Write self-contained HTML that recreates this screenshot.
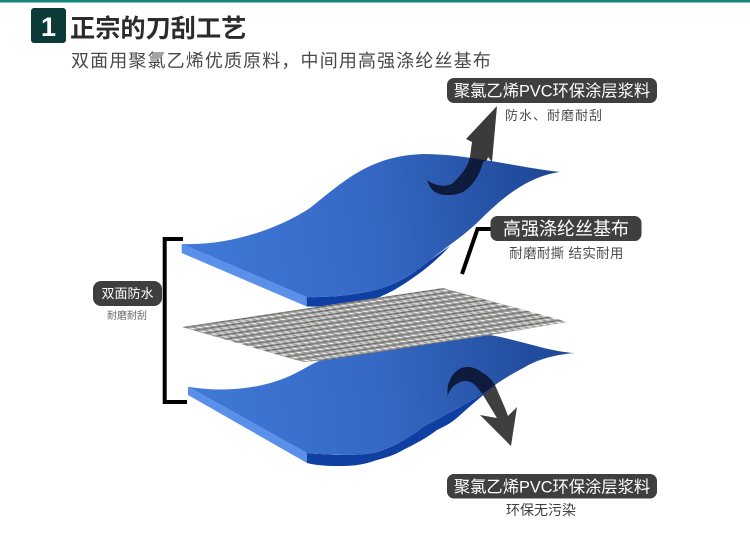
<!DOCTYPE html>
<html>
<head>
<meta charset="utf-8">
<style>
html,body{margin:0;padding:0;background:#fff;}
svg{display:block;}
text{font-family:"Liberation Sans","Noto Sans CJK SC",sans-serif;}
</style>
</head>
<body>
<svg width="750" height="538" viewBox="0 0 750 538" xmlns="http://www.w3.org/2000/svg">
<defs>
<linearGradient id="g1" gradientUnits="userSpaceOnUse" x1="190" y1="240" x2="560" y2="190">
<stop offset="0" stop-color="#4079d8"/><stop offset="0.5" stop-color="#3568c4"/><stop offset="1" stop-color="#1d4593"/>
</linearGradient>
<linearGradient id="g2" gradientUnits="userSpaceOnUse" x1="190" y1="400" x2="575" y2="360">
<stop offset="0" stop-color="#4079d8"/><stop offset="0.5" stop-color="#3568c4"/><stop offset="1" stop-color="#1d4593"/>
</linearGradient>
<pattern id="mesh" width="4" height="4" patternUnits="userSpaceOnUse" patternTransform="matrix(1.8,-0.27,2.75,0.7,182,327)">
<rect width="4" height="4" fill="#adadab"/>
<rect x="0" y="0.2" width="2.9" height="1.1" fill="#6a6a6a"/>
<rect x="0.6" y="2.2" width="2.2" height="1.2" fill="#ececea"/>
<rect x="3.1" y="0" width="0.7" height="4" fill="#8a8a8a"/>
</pattern>
<clipPath id="topClip"><path d="M181.7,244 C230,246 280,228 310,208 C345,180 370,156 423,154 C470,154 520,168 560,172 C530,176 505,195 480,220 C465,235 445,248 430,260 C415,272 405,279 390,285 C375,292 340,298 306.7,297 Z"/></clipPath>
<clipPath id="botClip"><path d="M188,386.7 C220,392 255,390 285,378 C305,370 315,360 330,358 L490,335 C520,340 550,352 575,353 C560,354 540,358 525,367 C512,374 505,378 495,385 C480,397 450,412 423,427 C410,437 395,446 383,450 C370,456 340,456 307,453 Z"/></clipPath>
</defs>

<rect x="0" y="0" width="750" height="2.5" fill="#12877c"/>
<rect x="31" y="8" width="35" height="35" rx="3" fill="#0c3b37"/>
<text x="48.5" y="36" font-size="27" font-weight="bold" fill="#fff" text-anchor="middle">1</text>
<text x="70" y="37" font-size="25.2" font-weight="bold" fill="#2b2b2b">正宗的刀刮工艺</text>
<text x="71" y="67" font-size="18" letter-spacing="1.13" fill="#4a4a4a">双面用聚氯乙烯优质原料，中间用高强涤纶丝基布</text>

<!-- top arrow -->
<path d="M497,106 L466,139 L472,142 L470,157 C467,168 463,173 453,183 C448,187 436,187 427,180 C429,186 431,189 435,192 C441,195 444,195 448,195 C454,195 458,194 463,192 C469,188 474,183 477,177 C480,172 482,167 483,162 L487,160 L488,157 L492,162 Z" fill="#3b3b3b"/>

<!-- top sheet -->
<path d="M181.7,244 L306.7,297 L306.7,306.5 L181.7,253 Z" fill="#5a8fea"/>
<path d="M306.7,297 C340,298 375,292 390,285 C405,279 415,272 430,260 L450,246 C435,262 422,272 407,282 C395,290 385,295 377,298 C365,303 350,306 340,307 L306.7,306.5 Z" fill="#0f3fa2"/>
<path d="M181.7,244 C230,246 280,228 310,208 C345,180 370,156 423,154 C470,154 520,168 560,172 C530,176 505,195 480,220 C465,235 445,248 430,260 C415,272 405,279 390,285 C375,292 340,298 306.7,297 Z" fill="url(#g1)"/>
<g clip-path="url(#topClip)">
<path d="M497,106 L466,139 L472,142 L470,157 C467,168 463,173 453,183 C448,187 436,187 427,180 C429,186 431,189 435,192 C441,195 444,195 448,195 C454,195 458,194 463,192 C469,188 474,183 477,177 C480,172 482,167 483,162 L487,160 L488,157 L492,162 Z" fill="#0e1b3c"/>
</g>

<!-- bottom arrow -->
<path d="M447.7,395.7 C447,388 448,384 450,380 C452,375 455,372 458,370 C462,367 466,367 470,367 C475,368 479,370 483,373 C488,376 492,380 495,385 L505,408 L508,416 L517,407 L511,446 L480,415 L497,418 L483,395 C480,391 478,388 475,385 C472,382 468,381 465,381 C461,381 458,383 455,385 C451,388 449,392 447.7,395.7 Z" fill="#3f3f3f"/>

<!-- bottom sheet -->
<path d="M188,386.7 L307,453 L307,463 L188,395 Z" fill="#5a8fea"/>
<path d="M307,453 C340,456 370,456 383,450 C395,446 410,437 423,427 C450,412 480,397 495,385 C482,396 470,406 458,417 C450,424 445,426 437,430 C425,439 415,444 403,450 C395,455 385,458 377,460 C360,466 350,466 337,466 C325,466 315,465 307,463 Z" fill="#0f3fa2"/>
<path d="M188,386.7 C220,392 255,390 285,378 C305,370 315,360 330,358 L490,335 C520,340 550,352 575,353 C560,354 540,358 525,367 C512,374 505,378 495,385 C480,397 450,412 423,427 C410,437 395,446 383,450 C370,456 340,456 307,453 Z" fill="url(#g2)"/>
<g clip-path="url(#botClip)">
<path d="M447.7,395.7 C447,388 448,384 450,380 C452,375 455,372 458,370 C462,367 466,367 470,367 C475,368 479,370 483,373 C488,376 492,380 495,385 L505,408 L508,416 L517,407 L511,446 L480,415 L497,418 L483,395 C480,391 478,388 475,385 C472,382 468,381 465,381 C461,381 458,383 455,385 C451,388 449,392 447.7,395.7 Z" fill="#0e1b3c"/>
</g>

<!-- mesh -->
<path d="M182,327 L443,288 L568,322 L490,335 L327,360 L303,362 Z" fill="url(#mesh)"/>

<!-- bracket -->
<path d="M183,239 H164.7 V402 H187" fill="none" stroke="#000" stroke-width="4"/>
<!-- connector -->
<path d="M491,229 H477.5 L462,274" fill="none" stroke="#000" stroke-width="4"/>

<!-- left label -->
<rect x="93" y="281" width="69" height="25" rx="8" fill="#3f3f3f"/>
<text x="127.5" y="298" font-size="13" fill="#fff" text-anchor="middle">双面防水</text>
<text x="127" y="319" font-size="10" fill="#666" text-anchor="middle">耐磨耐刮</text>

<!-- top label -->
<rect x="447" y="78" width="210" height="25" rx="7" fill="#3f3f3f"/>
<text x="552" y="96.5" font-size="16.3" fill="#fff" text-anchor="middle">聚氯乙烯PVC环保涂层浆料</text>
<text x="505" y="120" font-size="13" letter-spacing="1" fill="#4d4d4d">防水、耐磨耐刮</text>

<!-- middle label -->
<rect x="490.5" y="216" width="151" height="25" rx="7" fill="#3f3f3f"/>
<text x="566" y="235" font-size="18" fill="#fff" text-anchor="middle">高强涤纶丝基布</text>
<text x="566.5" y="258" font-size="13.5" letter-spacing="0.3" fill="#4d4d4d" text-anchor="middle">耐磨耐撕 结实耐用</text>

<!-- bottom label -->
<rect x="447" y="474" width="210" height="24.5" rx="7" fill="#3f3f3f"/>
<text x="552" y="492.5" font-size="16.3" fill="#fff" text-anchor="middle">聚氯乙烯PVC环保涂层浆料</text>
<text x="541" y="515" font-size="14" fill="#3f3f3f" text-anchor="middle">环保无污染</text>
</svg>
</body>
</html>
